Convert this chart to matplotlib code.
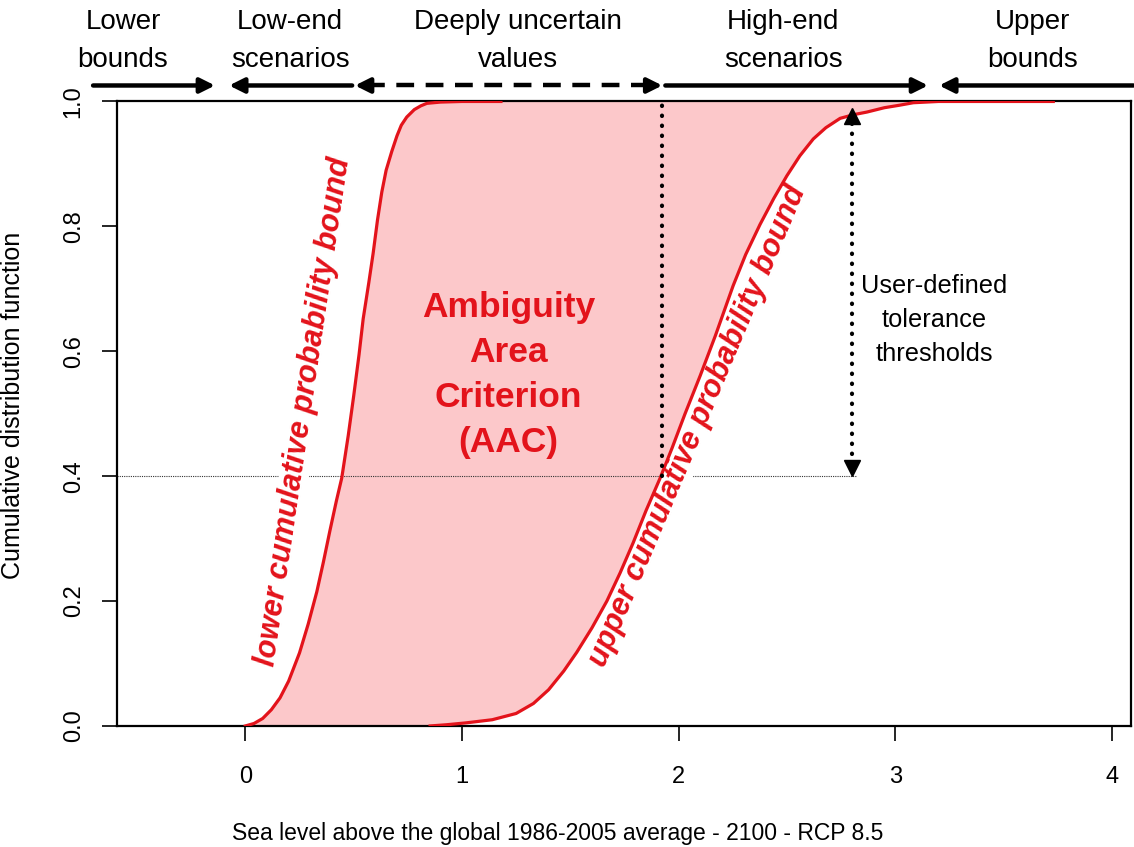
import numpy as np
import matplotlib.pyplot as plt

# lower / upper cumulative probability bounds
lower_x = [0.0, 0.04, 0.08, 0.12, 0.16, 0.20, 0.25, 0.29, 0.33, 0.36, 0.39, 0.42,
           0.445, 0.475, 0.50, 0.525, 0.544, 0.57, 0.59, 0.61, 0.63, 0.65, 0.676,
           0.70, 0.72, 0.745, 0.78, 0.81, 0.838, 0.90, 1.0, 1.18]
lower_y = [0.0, 0.004, 0.012, 0.026, 0.045, 0.072, 0.117, 0.163, 0.215, 0.262, 0.312,
           0.36, 0.397, 0.465, 0.528, 0.595, 0.652, 0.71, 0.757, 0.81, 0.855, 0.89,
           0.92, 0.945, 0.962, 0.975, 0.987, 0.993, 0.997, 0.999, 1.0, 1.0]
upper_x = [0.853, 0.93, 1.02, 1.14, 1.25, 1.33, 1.40, 1.47, 1.53, 1.60, 1.669, 1.73,
           1.79, 1.85, 1.915, 1.97, 2.03, 2.1, 2.17, 2.252, 2.31, 2.376, 2.44, 2.5,
           2.56, 2.622, 2.68, 2.746, 2.81, 2.869, 2.95, 3.02, 3.084, 3.2, 3.73]
upper_y = [0.0, 0.002, 0.005, 0.01, 0.02, 0.036, 0.058, 0.088, 0.118, 0.157, 0.2, 0.245,
           0.293, 0.345, 0.397, 0.445, 0.5, 0.561, 0.625, 0.705, 0.755, 0.803, 0.845,
           0.881, 0.913, 0.94, 0.958, 0.973, 0.979, 0.983, 0.99, 0.994, 0.998, 1.0, 1.0]

threshold = 0.4
threshold_x = 1.924      # where the upper bound crosses the threshold
tolerance_x = 2.80       # user-defined tolerance arrow
tolerance_top = 0.99

xticks = [0, 1, 2, 3, 4]
yticks = [0.0, 0.2, 0.4, 0.6, 0.8, 1.0]

# header bands: (label, centre x)
bands = [("Lower\nbounds", -0.565), ("Low-end\nscenarios", 0.207),
         ("Deeply uncertain\nvalues", 1.259), ("High-end\nscenarios", 2.483),
         ("Upper\nbounds", 3.633)]

red = "#e3131b"
pink = "#fcc8ca"
plt.rcParams["font.family"] = ["Liberation Sans", "DejaVu Sans"]

fig = plt.figure(figsize=(11.34, 8.47), dpi=100)
ax = fig.add_axes([0.1029, 0.1429, 0.8945, 0.7373])
ax.set_xlim(-0.594, 4.089)
ax.set_ylim(0, 1)

ax.fill(np.r_[lower_x, upper_x[::-1]], np.r_[lower_y, upper_y[::-1]],
        color=pink, lw=0, zorder=1)
ax.plot(lower_x, lower_y, color=red, lw=2.3, zorder=4)
ax.plot(upper_x, upper_y, color=red, lw=2.3, zorder=4)

# threshold line and the dotted markers
ax.plot([-0.594, tolerance_x + 0.02], [threshold, threshold], color="#333333",
        lw=0.8, ls=(0, (1, 1)), zorder=2)
ax.plot([threshold_x, threshold_x], [threshold, 1.0], color="black", lw=3.0,
        ls=(0, (0.1, 2.3)), dash_capstyle="round", zorder=5)
ax.plot([tolerance_x, tolerance_x], [threshold + 0.02, tolerance_top - 0.02],
        color="black", lw=3.0, ls=(0, (0.1, 2.3)), dash_capstyle="round", zorder=5)
ax.plot([tolerance_x], [threshold + 0.013], marker="v", color="black", ms=11, zorder=5)
ax.plot([tolerance_x], [tolerance_top - 0.013], marker="^", color="black", ms=11, zorder=5)

# text annotations
ax.text(1.214, 0.562, "Ambiguity\nArea\nCriterion\n(AAC)", color=red, fontsize=25.5,
        fontweight="bold", ha="center", va="center", linespacing=1.45, zorder=6)
ax.text(3.18, 0.65, "User-defined\ntolerance\nthresholds", color="black",
        fontsize=18.3, ha="center", va="center", linespacing=1.55, zorder=6)
lbl = dict(color=red, fontsize=22, fontweight="bold", fontstyle="italic",
           ha="center", va="center", rotation_mode="anchor", zorder=3,
           bbox=dict(facecolor="white", edgecolor="none", pad=0))
ax.text(0.268, 0.503, "lower cumulative probability bound", rotation=81.6, **lbl)
ax.text(2.09, 0.48, "upper cumulative probability bound", rotation=67.2, **lbl)

# header labels and arrows above the plot
for text, xc in bands:
    ax.text(xc, 1.0965, text, ha="center", va="center", fontsize=20,
            linespacing=1.6, clip_on=False)

ya = 1.0256
solid = dict(arrowstyle="-|>", lw=3.2, color="black", mutation_scale=22,
             shrinkA=0, shrinkB=0)
ax.annotate("", xy=(-0.140, ya), xytext=(-0.703, ya), arrowprops=solid,
            annotation_clip=False)
ax.annotate("", xy=(-0.075, ya), xytext=(0.493, ya), arrowprops=solid,
            annotation_clip=False)
ax.plot([0.56, 1.86], [ya, ya], color="black", lw=3.2, ls=(0, (4, 2.6)),
        clip_on=False)
ax.annotate("", xy=(0.506, ya), xytext=(0.57, ya), arrowprops=solid,
            annotation_clip=False)
ax.annotate("", xy=(1.925, ya), xytext=(1.86, ya), arrowprops=solid,
            annotation_clip=False)
ax.annotate("", xy=(3.152, ya), xytext=(1.939, ya), arrowprops=solid,
            annotation_clip=False)
ax.annotate("", xy=(3.203, ya), xytext=(4.10, ya), arrowprops=solid,
            annotation_clip=False)

# axes styling
for s in ax.spines.values():
    s.set_linewidth(1.6)
ax.set_xticks(xticks)
ax.set_xticklabels([str(t) for t in xticks])
ax.set_yticks(yticks)
ax.set_yticklabels([f"{t:.1f}" for t in yticks], rotation=90, va="center")
ax.tick_params(direction="out", length=11, width=1.2, labelsize=17, pad=18)
ax.tick_params(axis="y", pad=12)
ax.set_xlabel("Sea level above the global 1986-2005 average - 2100 - RCP 8.5",
              fontsize=16.5)
ax.xaxis.set_label_coords(0.435, -0.153)
ax.set_ylabel("Cumulative distribution function", fontsize=18)
ax.yaxis.set_label_coords(-0.09, 0.513)

fig.savefig("out.png", dpi=100)
